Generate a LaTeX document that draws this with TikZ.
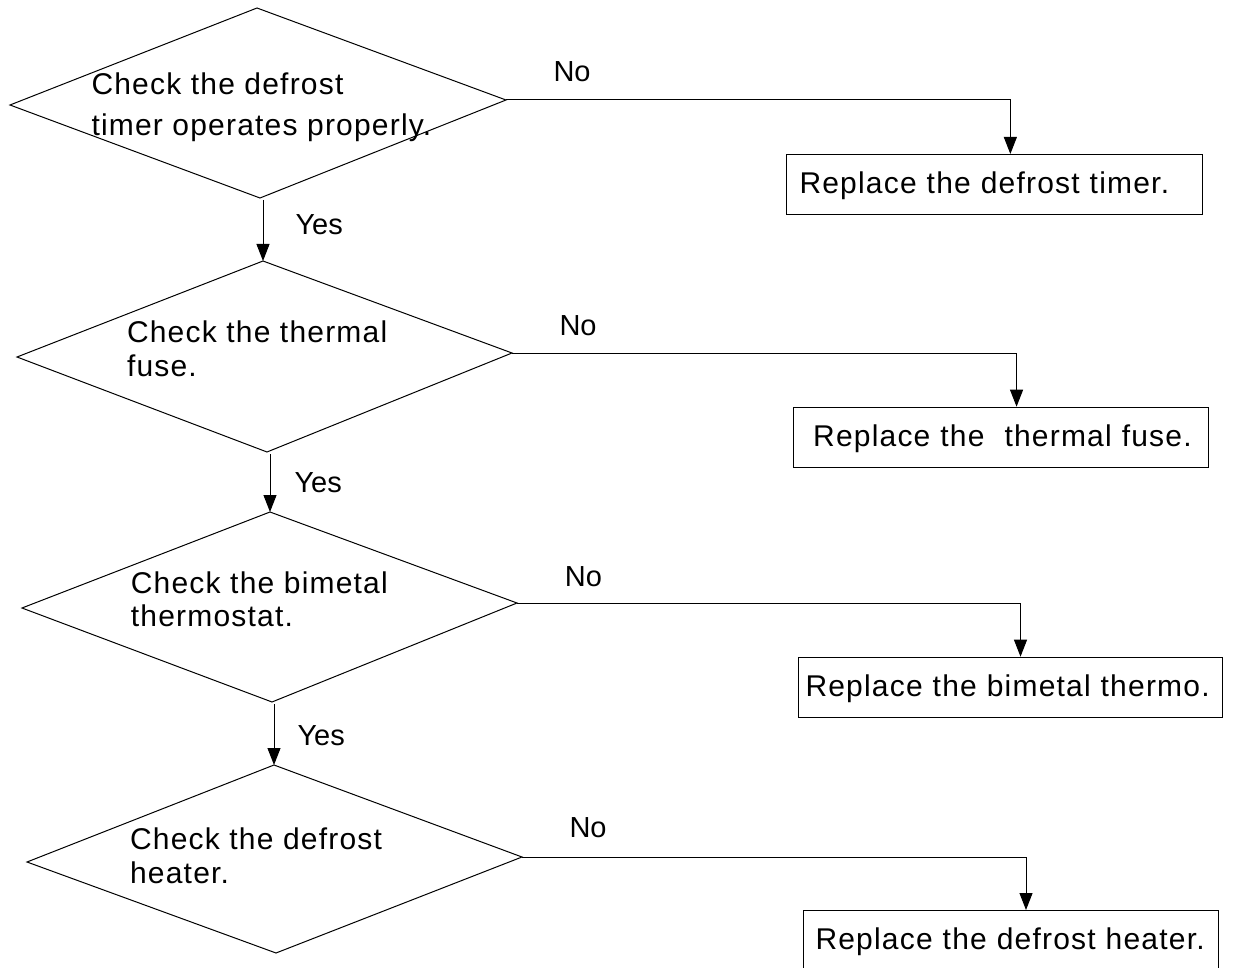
\documentclass[tikz,border=0pt]{standalone}
\usepackage{fontspec}
\setmainfont{Liberation Sans}
\newfontfamily\trk[LetterSpace=4]{Liberation Sans}
\usetikzlibrary{arrows.meta}
\begin{document}
\begin{tikzpicture}[x=1pt,y=-1pt, line width=1pt,
  arr/.style={-{Triangle[length=17pt,width=13pt]}},
  lbl/.style={font=\fontsize{29}{34}\selectfont, anchor=base west, inner sep=0pt},
  dtxt/.style={font=\trk\fontsize{30}{34}\selectfont, anchor=base west, inner sep=0pt},
  box/.style={draw, rectangle, anchor=north west, inner ysep=0pt, minimum height=60pt,
              text height=18pt, text depth=0pt, align=left, font=\trk\fontsize{30}{34}\selectfont}
]
\useasboundingbox (0,0) rectangle (1234,968);
\clip (0,0) rectangle (1234,968);

% diamonds
\coordinate (d1t) at (257,8);   \coordinate (d1r) at (506,100);
\coordinate (d1b) at (260,198); \coordinate (d1l) at (10,105);
\coordinate (d2t) at (263,261); \coordinate (d2r) at (512,353);
\coordinate (d2b) at (267,452); \coordinate (d2l) at (17,357);
\coordinate (d3t) at (270,512); \coordinate (d3r) at (517,603);
\coordinate (d3b) at (272,702); \coordinate (d3l) at (22,608);
\coordinate (d4t) at (274,765); \coordinate (d4r) at (522,857);
\coordinate (d4b) at (276,953); \coordinate (d4l) at (27,862);

\draw (d1t) -- (d1r) -- (d1b) -- (d1l) -- cycle;
\draw (d2t) -- (d2r) -- (d2b) -- (d2l) -- cycle;
\draw (d3t) -- (d3r) -- (d3b) -- (d3l) -- cycle;
\draw (d4t) -- (d4r) -- (d4b) -- (d4l) -- cycle;

% diamond texts
\node[dtxt] (q1a) at (91,95)    {Check the defrost};
\node[dtxt] (q1b) at (91,136)   {timer operates properly.};
\node[dtxt] (q2a) at (126.5,342.7) {Check the thermal};
\node[dtxt] (q2b) at (126.5,376.7) {fuse.};
\node[dtxt] (q3a) at (130.4,593.3) {Check the bimetal};
\node[dtxt] (q3b) at (130.4,626.7) {thermostat.};
\node[dtxt] (q4a) at (129.6,849)   {Check the defrost};
\node[dtxt] (q4b) at (129.6,883.3) {heater.};

% boxes
\node[box, text width=389.7pt, inner xsep=13pt] (b1) at (786,154) {\mbox{Replace the defrost timer.}};
\node[box, text width=375.3pt, inner xsep=20pt] (b2) at (792.7,406.7) {\mbox{Replace the\ \ thermal fuse.}};
\node[box, text width=410pt, inner xsep=6.7pt] (b3) at (798.3,656.7) {\mbox{Replace the bimetal thermo.}};
\node[box, text width=391pt, inner xsep=12.3pt] (b4) at (802.7,910) {\mbox{Replace the defrost heater.}};

% No connectors
\draw[arr] (d1r) -| ([xshift=16pt]b1.north);
\draw[arr] (d2r) -| ([xshift=15.7pt]b2.north);
\draw[arr] (d3r) -| ([xshift=10pt]b3.north);
\draw[arr] (d4r) -| ([xshift=15pt]b4.north);

% Yes connectors
\draw[arr] ([yshift=-2pt]d2t |- d1b) -- (d2t);
\draw[arr] ([yshift=-2pt]d3t |- d2b) -- (d3t);
\draw[arr] ([yshift=-2pt]d4t |- d3b) -- (d4t);

% labels
\node[lbl] (n1) at (553,81.7) {No};
\node[lbl] (n2) at (559,335)  {No};
\node[lbl] (n3) at (564.4,586) {No};
\node[lbl] (n4) at (569,837)  {No};
\node[lbl] (y1) at (295,235)  {Yes};
\node[lbl] (y2) at (294,492)  {Yes};
\node[lbl] (y3) at (297,745)  {Yes};
\end{tikzpicture}
\end{document}
